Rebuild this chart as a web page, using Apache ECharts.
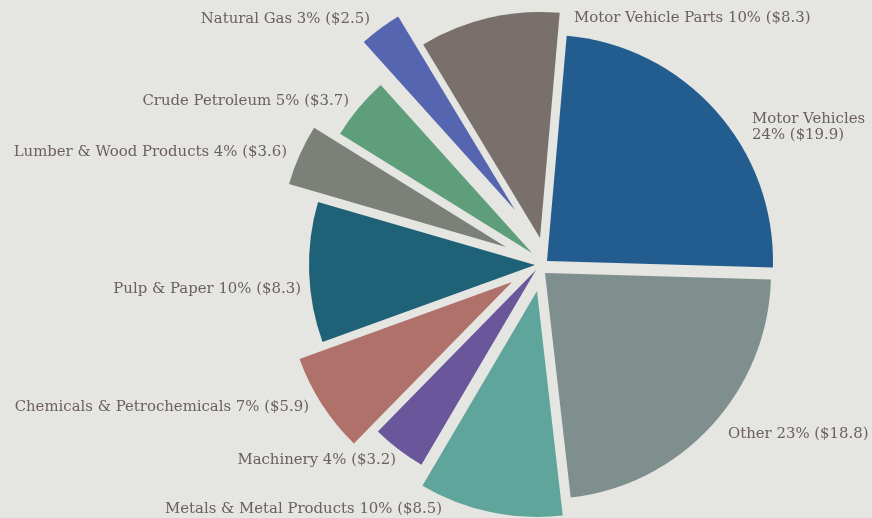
<!DOCTYPE html>
<html><head><meta charset="utf-8">
<script src="https://cdn.jsdelivr.net/npm/echarts@6/dist/echarts.min.js"></script>
<style>html,body{margin:0;padding:0;background:#e5e5e2;} #c{width:872px;height:518px;}</style>
</head><body><div id="c"></div>
<script>
const categories = ['Motor Vehicles','Other','Metals & Metal Products','Machinery','Chemicals & Petrochemicals','Pulp & Paper','Lumber & Wood Products','Crude Petroleum','Natural Gas','Motor Vehicle Parts'];
const values = [19.9, 18.8, 8.5, 3.2, 5.9, 8.3, 3.6, 3.7, 2.5, 8.3];
const percents = [24, 23, 10, 4, 7, 10, 4, 5, 3, 10];

const colors = ['#235d8f','#7f8f8d','#5fa59b','#6a569b','#b0716b','#1f6177','#7b8078','#5e9e7b','#5565b0','#7a706b'];
// exploded position (apex) of each slice
const sliceCenters = [[547,261],[545,273],[537,291],[536,270],[512,282],[535,265],[506,247],[532,253],[515,210],[540,238]];
const labelPlaces = [
  {x:752, y:127, align:'left'},
  {x:728, y:434, align:'left'},
  {x:165, y:509, align:'left'},
  {x:396, y:460, align:'right'},
  {x:309, y:407, align:'right'},
  {x:301, y:289, align:'right'},
  {x:287, y:152, align:'right'},
  {x:349, y:101, align:'right'},
  {x:370, y:19, align:'right'},
  {x:574, y:18, align:'left'}
];

function labelText(i){
  const sep = i === 0 ? '\n' : ' ';
  return categories[i] + sep + percents[i] + '% ($' + values[i].toFixed(1) + ')';
}

const chart = echarts.init(document.getElementById('c'), null, {renderer:'canvas'});
const series = categories.map((name, i) => ({
  type: 'pie',
  center: sliceCenters[i],
  radius: [0, 226],
  startAngle: 85,
  clockwise: true,
  avoidLabelOverlap: false,
  silent: true,
  animation: false,
  labelLine: {show: false},
  label: {show: false},
  data: categories.map((n, j) => ({
    name: n,
    value: values[j],
    itemStyle: {color: j === i ? colors[i] : 'rgba(0,0,0,0)', borderWidth: 0}
  }))
}));

const texts = categories.map((n, i) => ({
  type: 'text',
  x: labelPlaces[i].x,
  y: labelPlaces[i].y,
  silent: true,
  style: {
    text: labelText(i),
    fontFamily: 'DejaVu Serif',
    fontSize: 14.9,
    lineHeight: 16,
    fill: '#6b5f5f',
    align: labelPlaces[i].align,
    textAlign: labelPlaces[i].align,
    verticalAlign: 'middle',
    textVerticalAlign: 'middle'
  }
}));

chart.setOption({
  backgroundColor: '#e5e5e2',
  animation: false,
  series: series,
  graphic: texts
});
</script>
</body></html>
